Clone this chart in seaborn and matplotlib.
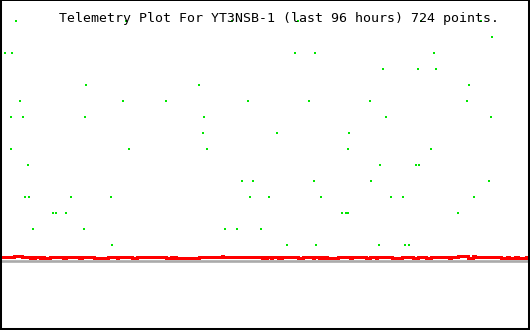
import matplotlib
matplotlib.use("Agg")
import matplotlib.pyplot as plt
import seaborn as sns
import pandas as pd

# ---- data (x in hours over the 96-hour window, y in plot levels) ----
title = "Telemetry Plot For YT3NSB-1 (last 96 hours) 724 points."

green_x = [2.55, 22.55, 41.82, 53.82, 76.36, 87.27,
           89.27,
           0.55, 2.0, 53.45, 56.91, 78.55,
           69.45, 75.64, 78.91,
           15.45, 36.0, 85.09,
           3.45, 22.18, 29.82, 44.91, 55.82, 66.91, 84.55,
           1.82, 4.0, 15.27, 36.91, 69.82, 89.09,
           36.55, 50.18, 63.27,
           1.64, 23.27, 37.45, 63.09, 78.0,
           4.91, 68.73, 75.45, 75.82,
           43.64, 45.64, 56.73, 67.27, 88.55,
           4.36, 5.09, 12.55, 20.0, 45.27, 48.55, 58.18, 70.73, 72.91, 85.82,
           9.45, 10.0, 11.82, 61.82, 62.55, 62.91, 82.91,
           5.64, 15.09, 40.55, 42.73, 47.27,
           20.18, 52.0, 57.27, 68.55, 73.45, 74.18]
green_y = ([15] * 6 + [14] * 1 + [13] * 5 + [12] * 3 + [11] * 3 + [10] * 7 +
           [9] * 6 + [8] * 3 + [7] * 5 + [6] * 4 + [5] * 5 + [4] * 10 +
           [3] * 7 + [2] * 5 + [1] * 6)

red_x = [0, 2.36, 3.82, 5.27, 5.45, 5.82, 6.18, 7.09, 7.45, 7.64, 8.73,
         11.27, 11.82, 14.18, 14.55, 16.91, 19.45, 21.09, 21.27, 23.64, 24.55,
         30.0, 30.73, 30.91, 31.45, 31.64, 36.0, 40.18, 40.36, 47.45, 47.64,
         48.18, 48.36, 48.91, 49.27, 50.36, 50.55, 50.91, 51.09, 54.0, 54.73,
         56.55, 56.73, 57.64, 58.18, 58.36, 58.55, 59.27, 61.27, 63.45, 63.64,
         66.36, 66.91, 68.18, 68.36, 70.91, 72.73, 74.73, 75.64, 77.27, 78.18,
         81.45, 81.64, 82.91, 84.73, 85.64, 86.0, 90.73, 91.82, 92.36, 93.45,
         93.82, 95.45, 96.0]
N, L, H = 0.25, 0.1875, 0.3125
red_y = [N, H, N, L, N, L, N, L, N, L, N,
         L, N, L, N, L, N, L, N, L, N,
         L, N, L, N, L, N, H, N, L, N,
         L, N, L, N, L, N, L, N, L, N,
         L, N, L, N, L, N, L, N, L, N,
         L, N, L, N, L, N, L, N, L, N,
         L, N, H, L, H, N, L, N, L, N,
         L, N, N]
baseline = 0.0

# ---- figure ----
sns.set_style("white")
fig = plt.figure(figsize=(5.3, 3.3), dpi=100)
ax = fig.add_axes([0, 0, 1, 1])

ax.axhline(baseline, color="#aaaaaa", lw=1.9, zorder=1)

red_df = pd.DataFrame({"x": red_x, "y": red_y})
sns.lineplot(data=red_df, x="x", y="y", ax=ax, color="#ff0000", lw=2.0,
             drawstyle="steps-post", estimator=None, sort=False,
             antialiased=False, zorder=2)

green_df = pd.DataFrame({"x": green_x, "y": green_y})
rect = [(-0.5, -1), (0.5, -1), (0.5, 1), (-0.5, 1), (-0.5, -1)]
sns.scatterplot(data=green_df, x="x", y="y", ax=ax, marker=rect, s=2.4,
                color="#00e600", linewidth=0, antialiased=False, zorder=3)

ax.set_xlim(-0.27, 96.09)
ax.set_ylim(-4.33, 16.29)
ax.set_xticks([])
ax.set_yticks([])
ax.set_xlabel("")
ax.set_ylabel("")
for side in ["left", "right", "bottom"]:
    ax.spines[side].set_visible(True)
    ax.spines[side].set_color("black")
    ax.spines[side].set_linewidth(2.9)
ax.spines["top"].set_visible(True)
ax.spines["top"].set_color("black")
ax.spines["top"].set_linewidth(1.44)

fig.text(279 / 530, 1 - 22 / 330, title, family="DejaVu Sans Mono",
         fontsize=9.5, ha="center", va="baseline", color="black")

fig.savefig("out.png", dpi=100)
